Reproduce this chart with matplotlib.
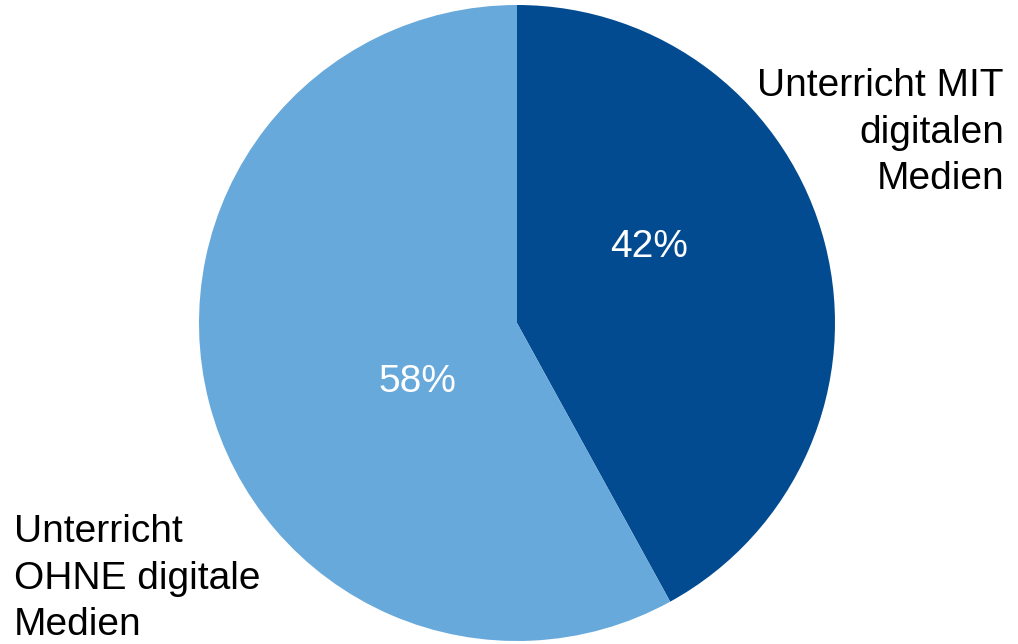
import matplotlib
matplotlib.use('Agg')
import matplotlib.pyplot as plt

# data
labels = ['Unterricht MIT\ndigitalen\nMedien', 'Unterricht\nOHNE digitale\nMedien']
shares = [42, 58]
colors = ['#034B91', '#68A9DB']

plt.rcParams['font.family'] = ['Liberation Sans', 'DejaVu Sans']

W, H = 1018, 644
fig = plt.figure(figsize=(W / 100, H / 100), dpi=100)
ax = fig.add_axes([0, 0, 1, 1])

# pixel-like coordinates, y measured from the bottom
ax.pie(shares, colors=colors, startangle=90, counterclock=False,
       center=(517, H - 323), radius=318,
       wedgeprops=dict(linewidth=0))
ax.set_xlim(0, W)
ax.set_ylim(0, H)
ax.set_aspect('equal')
ax.axis('off')

fs = 28
# percentage labels
ax.text(649, H - 257, f'{shares[0]}%', color='white', fontsize=fs,
        ha='center', va='baseline')
ax.text(417, H - 392, f'{shares[1]}%', color='white', fontsize=fs,
        ha='center', va='baseline')

# category labels
ax.text(1004, H - 68, labels[0], color='black', fontsize=fs,
        ha='right', va='top', multialignment='right', linespacing=1.38)
ax.text(14, H - 514, labels[1], color='black', fontsize=fs,
        ha='left', va='top', multialignment='left', linespacing=1.38)

fig.savefig('out.png', dpi=100)
